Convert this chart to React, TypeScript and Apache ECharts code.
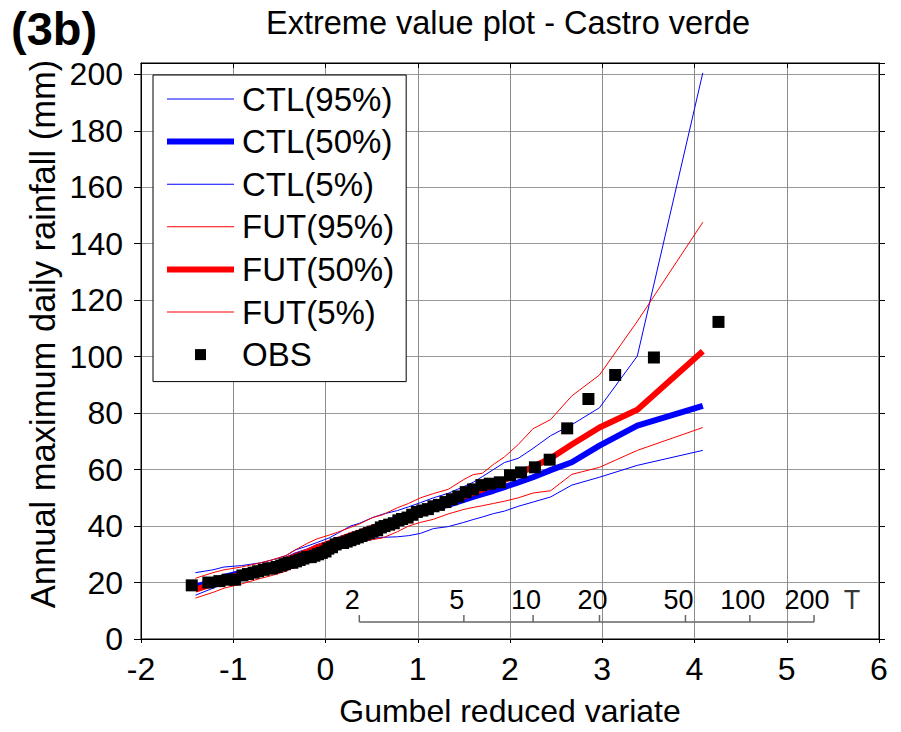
import React, { useEffect, useRef } from 'react';
import * as echarts from 'echarts';

// Gumbel reduced variate positions of the model quantile curves (vertices)
const modelX = [-1.41, -1.22, -1.10, -0.91, -0.70, -0.58, -0.43, -0.33, -0.19, -0.09, 0.04, 0.13, 0.27, 0.37, 0.51, 0.62, 0.78, 0.90, 1.03, 1.17, 1.33, 1.50, 1.60, 1.70, 1.82, 1.94, 2.09, 2.25, 2.44, 2.67, 2.97, 3.38, 4.09];
const ctl95 = [23.5, 24.5, 25.5, 26.0, 27.0, 28.0, 29.5, 31.5, 33.0, 34.2, 35.8, 37.4, 40.0, 41.0, 43.0, 44.2, 45.5, 46.8, 48.3, 50.0, 51.6, 54.0, 55.5, 57.5, 60.0, 62.5, 64.0, 67.5, 72.0, 75.9, 81.9, 100.2, 200.5];
const ctl50 = [18.5, 20.5, 22.0, 23.5, 25.0, 26.0, 28.0, 29.5, 31.0, 32.5, 33.8, 35.0, 36.5, 37.5, 39.0, 40.2, 42.0, 43.5, 45.0, 46.3, 47.5, 49.3, 50.3, 51.3, 52.5, 53.8, 55.5, 57.3, 59.8, 62.6, 68.5, 75.6, 82.6];
const ctl5 = [15.5, 18.0, 19.5, 21.0, 22.5, 23.5, 25.5, 27.0, 29.5, 30.0, 30.8, 31.5, 33.2, 34.0, 35.5, 36.0, 36.2, 36.6, 37.4, 39.1, 39.8, 41.3, 42.3, 43.2, 44.4, 45.3, 47.0, 48.5, 50.3, 54.5, 57.3, 61.5, 66.8];
const fut95 = [21.5, 23.5, 24.5, 25.5, 27.0, 28.0, 29.5, 31.5, 34.0, 35.5, 36.8, 37.8, 39.5, 40.8, 43.0, 44.0, 46.5, 48.0, 50.0, 51.5, 53.0, 56.5, 58.2, 58.7, 61.8, 64.5, 68.9, 74.5, 77.7, 86.1, 93.5, 112.5, 147.6];
const fut50 = [17.5, 19.5, 21.0, 23.0, 24.8, 26.0, 28.0, 29.3, 31.0, 32.5, 34.0, 35.0, 36.7, 37.8, 39.5, 40.7, 42.5, 44.0, 45.5, 47.0, 48.5, 50.5, 51.7, 53.0, 54.5, 56.3, 58.5, 61.0, 64.0, 68.9, 74.9, 81.2, 101.9];
const fut5 = [14.5, 16.5, 18.0, 19.5, 21.5, 22.5, 24.0, 25.5, 28.5, 30.0, 31.0, 32.0, 33.7, 34.5, 35.2, 35.8, 38.0, 40.0, 41.3, 42.4, 44.3, 45.9, 46.6, 47.2, 48.0, 48.8, 50.0, 51.7, 52.5, 58.3, 60.8, 66.8, 74.9];

// Observed annual maxima (plotting positions and values)
const obsX = [-1.45, -1.27, -1.15, -1.06, -0.98, -0.90, -0.84, -0.78, -0.73, -0.67, -0.62, -0.58, -0.53, -0.48, -0.44, -0.40, -0.36, -0.32, -0.28, -0.24, -0.20, -0.16, -0.12, -0.08, -0.04, 0.00, 0.03, 0.07, 0.11, 0.15, 0.19, 0.23, 0.27, 0.31, 0.35, 0.39, 0.43, 0.47, 0.51, 0.56, 0.60, 0.64, 0.69, 0.74, 0.79, 0.83, 0.89, 0.94, 0.99, 1.05, 1.11, 1.17, 1.23, 1.30, 1.37, 1.44, 1.52, 1.60, 1.69, 1.78, 1.89, 2.00, 2.12, 2.27, 2.43, 2.62, 2.85, 3.14, 3.56, 4.26];
const obsY = [19.0, 20.0, 20.5, 21.0, 21.0, 22.5, 23.0, 23.5, 24.0, 24.5, 25.0, 25.0, 25.5, 26.0, 26.5, 27.0, 27.0, 27.5, 28.0, 28.5, 29.0, 29.0, 29.5, 30.0, 30.5, 31.0, 32.0, 32.5, 33.5, 34.0, 34.0, 34.5, 35.0, 35.5, 36.0, 36.5, 37.0, 37.5, 38.0, 38.5, 39.5, 40.0, 40.5, 41.0, 42.0, 42.5, 43.0, 44.0, 45.0, 45.5, 46.0, 47.0, 47.5, 48.5, 49.5, 50.5, 52.0, 53.0, 54.5, 55.0, 55.5, 58.0, 59.0, 60.8, 63.5, 74.6, 85.0, 93.5, 99.7, 112.3];

// Return period scale (years)
const returnPeriods = [2, 5, 10, 20, 50, 100, 200];
const returnAxisLevel = 6;

const FONT = "'Liberation Sans', Arial, sans-serif";

const pairs = (xs: number[], ys: number[]) => xs.map((x, i) => [x, ys[i]]);

export default function App() {
  const ref = useRef<HTMLDivElement>(null);
  useEffect(() => {
    document.body.style.margin = '0';
    if (!ref.current) return;
    const chart = echarts.init(ref.current, undefined, { renderer: 'svg' });
    const rpX = returnPeriods.map((T) => -Math.log(-Math.log(1 - 1 / T)));
    const BLUE = '#0000ff';
    const RED = '#ff0000';
    const thinIcon = 'path://M0,0H67V1H0Z';
    const thickIcon = 'path://M0,0H67V6H0Z';
    const lineSeries = (name: string, ys: number[], color: string, width: number) => ({
      name,
      type: 'line',
      data: pairs(modelX, ys),
      symbol: 'none',
      lineStyle: { color, width },
      itemStyle: { color },
      silent: true,
    });
    const option: any = {
      animation: false,
      backgroundColor: '#fff',
      title: [
        {
          text: 'Extreme value plot - Castro verde',
          left: 508,
          top: 6,
          padding: 0,
          textAlign: 'center',
          textStyle: { fontSize: 32.5, fontWeight: 'normal', color: '#000', fontFamily: FONT },
        },
        {
          text: '(3b)',
          left: 11,
          top: 5,
          padding: 0,
          textStyle: { fontSize: 47, fontWeight: 'bold', color: '#000', fontFamily: FONT },
        },
      ],
      grid: { left: 141, right: 22, top: 63, bottom: 89, show: true, borderColor: '#000', borderWidth: 1, backgroundColor: '#fff' },
      legend: {
        orient: 'vertical',
        left: 153,
        top: 75,
        padding: [7, 12, 10, 14],
        itemGap: 8.6,
        itemWidth: 67,
        itemHeight: 11,
        backgroundColor: '#fff',
        borderColor: '#000',
        borderWidth: 1,
        borderRadius: 0,
        selectedMode: false,
        textStyle: { fontSize: 33, color: '#000', fontFamily: FONT, lineHeight: 34, padding: [0, 0, 0, 3] },
        data: [
          { name: 'CTL(95%)', icon: thinIcon, itemStyle: { borderWidth: 0 } },
          { name: 'CTL(50%)', icon: thickIcon, itemStyle: { borderWidth: 0 } },
          { name: 'CTL(5%)', icon: thinIcon, itemStyle: { borderWidth: 0 } },
          { name: 'FUT(95%)', icon: thinIcon, itemStyle: { borderWidth: 0 } },
          { name: 'FUT(50%)', icon: thickIcon, itemStyle: { borderWidth: 0 } },
          { name: 'FUT(5%)', icon: thinIcon, itemStyle: { borderWidth: 0 } },
          { name: 'OBS', icon: 'path://M0,0H1V1H0Z', itemStyle: { borderWidth: 0, opacity: 1 } },
        ],
      },
      xAxis: [
        {
          type: 'value',
          min: -2,
          max: 6,
          interval: 1,
          position: 'bottom',
          axisLine: { show: true, onZero: false, lineStyle: { color: '#000', width: 1 } },
          axisTick: { show: true, inside: false, length: 4, lineStyle: { color: '#000' } },
          axisLabel: { fontSize: 32, color: '#000', margin: 14, fontFamily: FONT },
          splitLine: { show: true, lineStyle: { color: '#8c8c8c', width: 1 } },
          name: 'Gumbel reduced variate',
          nameLocation: 'middle',
          nameGap: 56,
          nameTextStyle: { fontSize: 32, color: '#000', fontFamily: FONT },
        },
        {
          type: 'value',
          min: -2,
          max: 6,
          interval: 1,
          position: 'top',
          axisLine: { show: true, onZero: false, lineStyle: { color: '#000', width: 1 } },
          axisTick: { show: true, inside: true, length: 5, lineStyle: { color: '#000' } },
          axisLabel: { show: false },
          splitLine: { show: false },
        },
      ],
      yAxis: [
        {
          type: 'value',
          min: 0,
          max: 204,
          interval: 20,
          position: 'left',
          axisLine: { show: true, onZero: false, lineStyle: { color: '#000', width: 1 } },
          axisTick: { show: true, inside: false, length: 7, lineStyle: { color: '#000' } },
          axisLabel: { fontSize: 32, color: '#000', margin: 18, fontFamily: FONT, showMaxLabel: false },
          splitLine: { show: true, lineStyle: { color: '#999', width: 1.2 } },
        },
        {
          type: 'value',
          min: 0,
          max: 204,
          interval: 20,
          position: 'right',
          axisLine: { show: true, onZero: false, lineStyle: { color: '#000', width: 1 } },
          axisTick: { show: true, inside: false, length: 6, lineStyle: { color: '#000' } },
          axisLabel: { show: false },
          splitLine: { show: false },
        },
      ],
      graphic: [
        {
          type: 'text',
          x: 43,
          y: 334,
          rotation: Math.PI / 2,
          style: {
            text: 'Annual maximum daily rainfall (mm)',
            fontSize: 34.5,
            fontFamily: FONT,
            fill: '#000',
            align: 'center',
            verticalAlign: 'middle',
          },
        },
      ],
      series: [
        {
          name: 'return-period-line',
          type: 'line',
          data: [[rpX[0], returnAxisLevel], [rpX[rpX.length - 1], returnAxisLevel]],
          symbol: 'none',
          lineStyle: { color: '#666', width: 1.5 },
          silent: true,
          z: 1,
        },
        {
          name: 'return-period-ticks',
          type: 'scatter',
          data: rpX.map((x, i) => ({ value: [x, returnAxisLevel], label: { formatter: String(returnPeriods[i]) } })),
          symbol: 'rect',
          symbolSize: [1.5, 7],
          symbolOffset: [0, -3.5],
          itemStyle: { color: '#666', opacity: 1 },
          label: { show: true, position: 'top', distance: 2, offset: [-7, 0], fontSize: 27, color: '#000', fontFamily: FONT },
          silent: true,
          z: 1,
        },
        {
          name: 'return-period-unit',
          type: 'scatter',
          data: [{ value: [rpX[rpX.length - 1], returnAxisLevel], label: { formatter: 'T' } }],
          symbolSize: 0,
          symbolOffset: [0, -3.5],
          label: { show: true, position: 'top', distance: 5.5, offset: [38, 0], fontSize: 27, color: '#000', fontFamily: FONT },
          silent: true,
          z: 1,
        },
        lineSeries('CTL(95%)', ctl95, BLUE, 1),
        lineSeries('CTL(50%)', ctl50, BLUE, 6),
        lineSeries('CTL(5%)', ctl5, BLUE, 1),
        lineSeries('FUT(95%)', fut95, RED, 1),
        lineSeries('FUT(50%)', fut50, RED, 6),
        lineSeries('FUT(5%)', fut5, RED, 1),
        {
          name: 'OBS',
          type: 'scatter',
          data: pairs(obsX, obsY),
          symbol: 'rect',
          symbolSize: 12,
          itemStyle: { color: '#000', opacity: 1 },
          silent: true,
          z: 3,
        },
      ],
    };
    chart.setOption(option);
    return () => chart.dispose();
  }, []);
  return <div ref={ref} style={{ width: 901, height: 732 }} />;
}
